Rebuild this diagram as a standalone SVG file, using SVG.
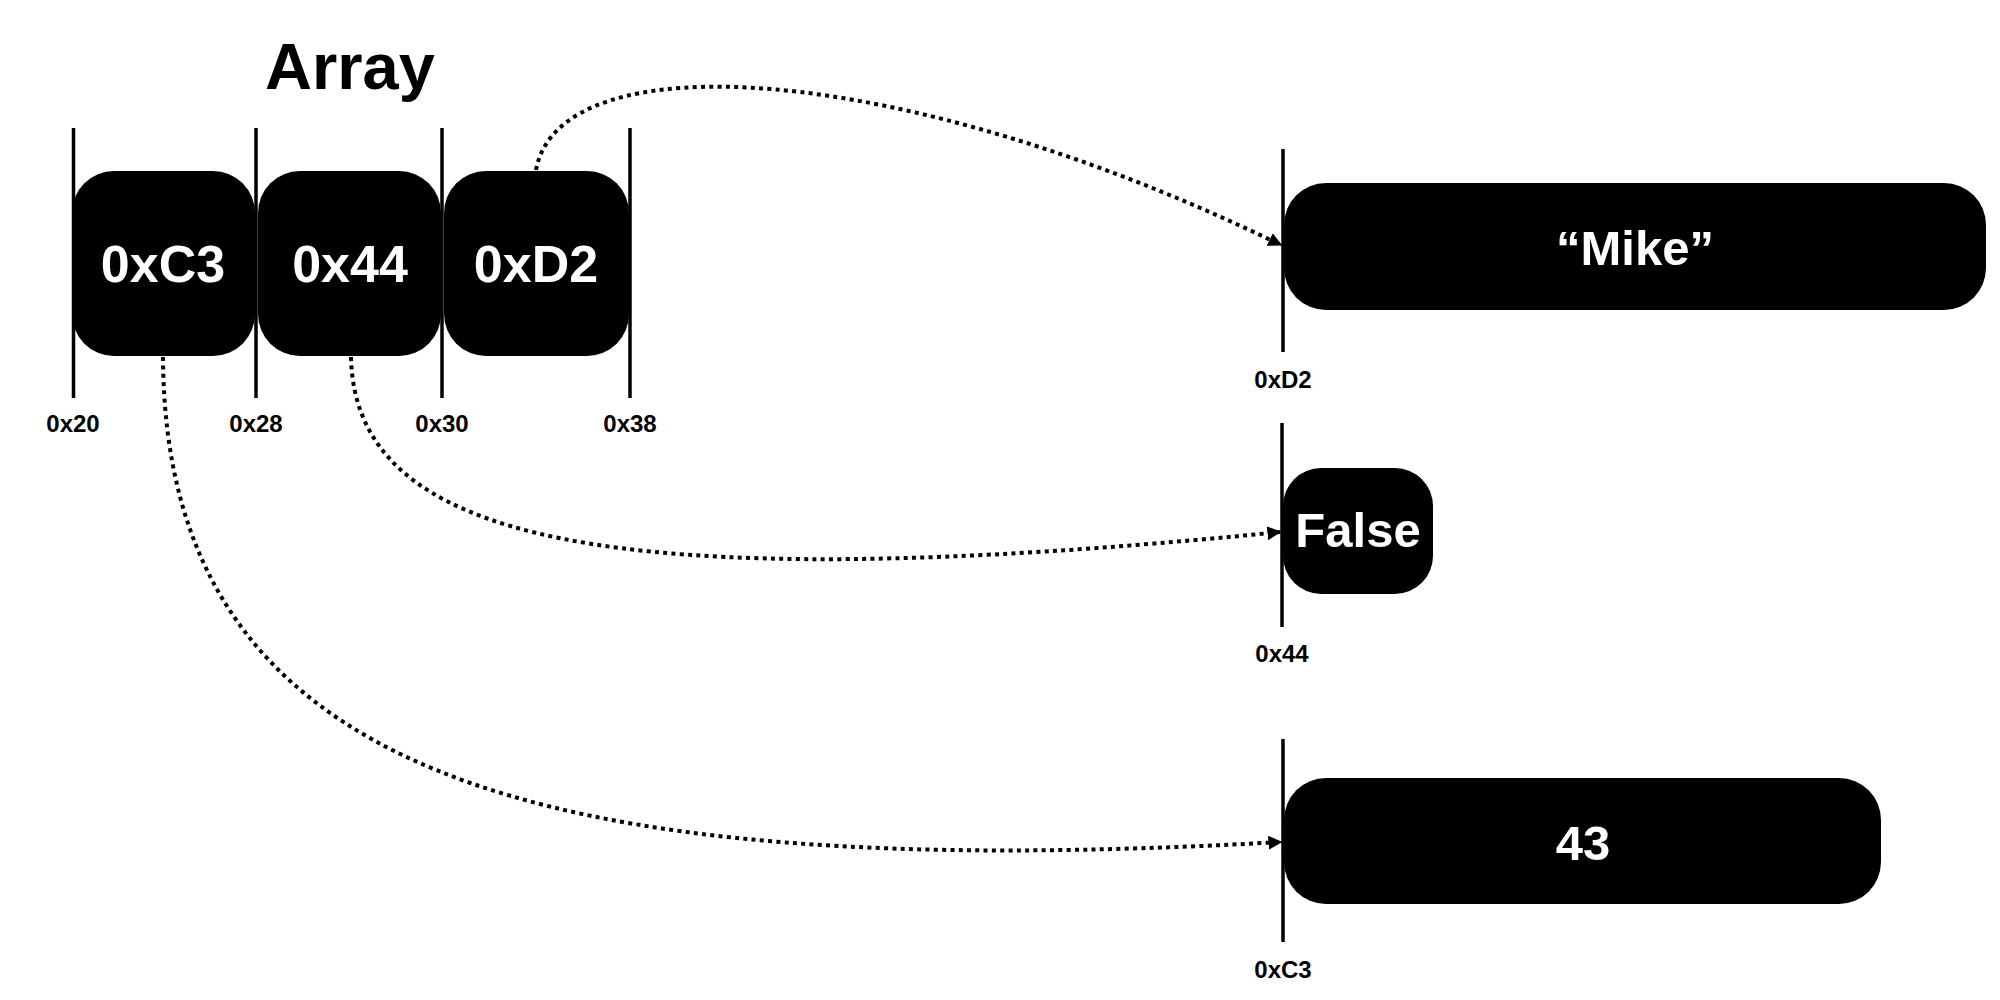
<svg xmlns="http://www.w3.org/2000/svg" width="2000" height="1000" viewBox="0 0 2000 1000">
<style>
.box{fill:#000}
.val{font-family:"Liberation Sans",Arial,sans-serif;font-weight:bold;fill:#fff;text-anchor:middle}
.addr{font-family:"Liberation Sans",Arial,sans-serif;font-weight:bold;font-size:24px;fill:#000;text-anchor:middle}
.tick{stroke:#000;stroke-width:3.5}
.link{fill:none;stroke:#000;stroke-width:4;stroke-dasharray:4 4.3}
</style>
<defs>
<marker id="arr" viewBox="0 0 10 10" refX="9" refY="5" markerWidth="3.5" markerHeight="3.5" orient="auto" markerUnits="strokeWidth">
<path d="M0,0 L10,5 L0,10 z" fill="#000"/>
</marker>
</defs>
<rect width="2000" height="1000" fill="#fff"/>
<text x="350" y="89" font-family="Liberation Sans,Arial,sans-serif" font-weight="bold" font-size="65" text-anchor="middle">Array</text>
<g id="array">
<g id="cell-0x20">
<rect class="box" x="72" y="171" width="183" height="185" rx="42"/>
<text class="val" x="163" y="282" font-size="52">0xC3</text>
</g>
<g id="cell-0x28">
<rect class="box" x="258" y="171" width="183" height="185" rx="42"/>
<text class="val" x="350" y="282" font-size="52">0x44</text>
</g>
<g id="cell-0x30">
<rect class="box" x="444" y="171" width="185" height="185" rx="42"/>
<text class="val" x="536" y="282" font-size="52">0xD2</text>
</g>
<line class="tick" x1="73.5" y1="128" x2="73.5" y2="398"/>
<line class="tick" x1="256" y1="128" x2="256" y2="398"/>
<line class="tick" x1="442" y1="128" x2="442" y2="398"/>
<line class="tick" x1="630" y1="128" x2="630" y2="398"/>
<text class="addr" x="73" y="432">0x20</text>
<text class="addr" x="256" y="432">0x28</text>
<text class="addr" x="442" y="432">0x30</text>
<text class="addr" x="630" y="432">0x38</text>
</g>
<g id="node-mike">
<rect class="box" x="1284" y="183" width="702" height="127" rx="42"/>
<line class="tick" x1="1283" y1="149" x2="1283" y2="352"/>
<text class="val" x="1635" y="265" font-size="49">“Mike”</text>
<text class="addr" x="1283" y="388">0xD2</text>
</g>
<g id="node-false">
<rect class="box" x="1283" y="468" width="150" height="126" rx="38"/>
<line class="tick" x1="1282" y1="423" x2="1282" y2="627"/>
<text class="val" x="1358" y="547" font-size="49">False</text>
<text class="addr" x="1282" y="662">0x44</text>
</g>
<g id="node-43">
<rect class="box" x="1284" y="778" width="597" height="126" rx="42"/>
<line class="tick" x1="1283" y1="739" x2="1283" y2="942"/>
<text class="val" x="1583" y="860" font-size="49">43</text>
<text class="addr" x="1283" y="978">0xC3</text>
</g>
<g id="connectors">
<path class="link" d="M536,170 C560,40 900,60 1281,245" marker-end="url(#arr)"/>
<path class="link" d="M351,357 C355,540 600,600 1280,532" marker-end="url(#arr)"/>
<path class="link" d="M163,357 C165,770 520,885 1281,842" marker-end="url(#arr)"/>
</g>
</svg>
